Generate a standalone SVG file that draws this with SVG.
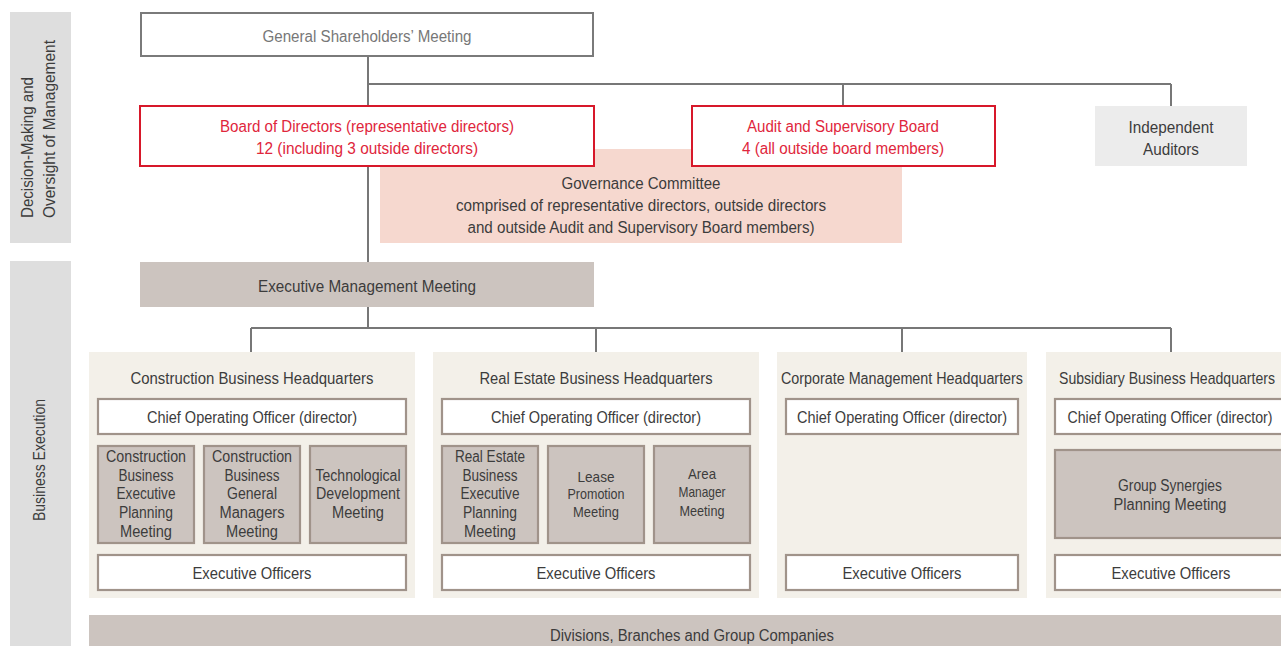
<svg xmlns="http://www.w3.org/2000/svg" width="1281" height="646" viewBox="0 0 1281 646">
  <style>
    text { font-family: "Liberation Sans", Arial, sans-serif; font-size: 16px; fill: #3c3c3c; text-anchor: middle; }
    .side { fill: #dedede; }
    .red { fill: #ffffff; stroke: #d7182a; stroke-width: 2; }
    text.redt { fill: #e0263c; }
    .hq { fill: #f3f0e9; }
    .wbox { fill: #ffffff; stroke: #a0938a; stroke-width: 2.2; }
    .mbox { fill: #ccc4bf; stroke: #a0938a; stroke-width: 2.2; }
    .gline { fill: none; stroke: #777777; stroke-width: 2; }
    .bline { fill: none; stroke: #a0938a; stroke-width: 2.2; }
    text.sm { font-size: 15px; }
    text.vl { text-anchor: start; }
  </style>

  <!-- side bands -->
  <g id="band-oversight">
    <rect class="side" x="10" y="12" width="61" height="231"/>
    <text class="vl" transform="translate(33,218) rotate(-90)" textLength="141" lengthAdjust="spacingAndGlyphs">Decision-Making and</text>
    <text class="vl" transform="translate(55,218) rotate(-90)" textLength="178" lengthAdjust="spacingAndGlyphs">Oversight of Management</text>
  </g>
  <g id="band-execution">
    <rect class="side" x="10" y="261" width="61" height="385"/>
    <text transform="translate(45,460) rotate(-90)" textLength="122" lengthAdjust="spacingAndGlyphs">Business Execution</text>
  </g>

  <!-- connectors -->
  <g id="connectors">
    <path class="gline" d="M368 56 V262 M368 84 H1171 M843 84 V106 M1171 84 V106"/>
    <path class="gline" d="M368 307 V328 M251 328 H1171 M251 328 V352 M596 328 V352 M902 328 V352 M1171 328 V352"/>
    <path class="bline" d="M146 434 V446 M252 434 V446 M358 434 V446 M146 543 V555 M252 543 V555 M358 543 V555"/>
    <path class="bline" d="M490 434 V446 M596 434 V446 M702 434 V446 M490 543 V555 M596 543 V555 M702 543 V555"/>
    <path class="bline" d="M902 434 V555"/>
    <path class="bline" d="M1171 434 V450 M1171 538 V555"/>
  </g>

  <g id="shareholders">
    <rect x="141" y="13" width="452" height="43" fill="#ffffff" stroke="#7a7a7a" stroke-width="2"/>
    <text x="367" y="42" style="fill:#777777" textLength="209" lengthAdjust="spacingAndGlyphs">General Shareholders’ Meeting</text>
  </g>

  <g id="governance">
    <rect x="380" y="149" width="522" height="94" fill="#f6d8cf"/>
    <text x="641" y="189" textLength="159" lengthAdjust="spacingAndGlyphs">Governance Committee</text>
    <text x="641" y="211" textLength="370" lengthAdjust="spacingAndGlyphs">comprised of representative directors, outside directors</text>
    <text x="641" y="233" textLength="347" lengthAdjust="spacingAndGlyphs">and outside Audit and Supervisory Board members)</text>
  </g>

  <g id="board">
    <rect class="red" x="140" y="106" width="454" height="60"/>
    <text class="redt" x="367" y="132" textLength="294" lengthAdjust="spacingAndGlyphs">Board of Directors (representative directors)</text>
    <text class="redt" x="367" y="154" textLength="222" lengthAdjust="spacingAndGlyphs">12 (including 3 outside directors)</text>
  </g>

  <g id="audit-board">
    <rect class="red" x="692" y="106" width="303" height="60"/>
    <text class="redt" x="843" y="132" textLength="192" lengthAdjust="spacingAndGlyphs">Audit and Supervisory Board</text>
    <text class="redt" x="843" y="154" textLength="202" lengthAdjust="spacingAndGlyphs">4 (all outside board members)</text>
  </g>

  <g id="auditors">
    <rect x="1095" y="106" width="152" height="60" fill="#ececec"/>
    <text x="1171" y="133" textLength="85" lengthAdjust="spacingAndGlyphs">Independent</text>
    <text x="1171" y="155" textLength="56" lengthAdjust="spacingAndGlyphs">Auditors</text>
  </g>

  <g id="exec-mgmt">
    <rect x="140" y="262" width="454" height="45" fill="#ccc4bf"/>
    <text x="367" y="292" textLength="218" lengthAdjust="spacingAndGlyphs">Executive Management Meeting</text>
  </g>

  <!-- Construction -->
  <g id="hq-construction">
    <rect class="hq" x="89" y="352" width="326" height="246"/>
    <text x="252" y="384" textLength="243" lengthAdjust="spacingAndGlyphs">Construction Business Headquarters</text>
    <rect class="wbox" x="98" y="399" width="308" height="35"/>
    <text x="252" y="423" textLength="210" lengthAdjust="spacingAndGlyphs">Chief Operating Officer (director)</text>
    <rect class="mbox" x="98" y="446" width="96" height="97"/>
    <text x="146" y="462" textLength="80" lengthAdjust="spacingAndGlyphs">Construction</text>
    <text x="146" y="481" textLength="55" lengthAdjust="spacingAndGlyphs">Business</text>
    <text x="146" y="499" textLength="59" lengthAdjust="spacingAndGlyphs">Executive</text>
    <text x="146" y="518" textLength="54" lengthAdjust="spacingAndGlyphs">Planning</text>
    <text x="146" y="537" textLength="52" lengthAdjust="spacingAndGlyphs">Meeting</text>
    <rect class="mbox" x="204" y="446" width="96" height="97"/>
    <text x="252" y="462" textLength="80" lengthAdjust="spacingAndGlyphs">Construction</text>
    <text x="252" y="481" textLength="55" lengthAdjust="spacingAndGlyphs">Business</text>
    <text x="252" y="499" textLength="50" lengthAdjust="spacingAndGlyphs">General</text>
    <text x="252" y="518" textLength="65" lengthAdjust="spacingAndGlyphs">Managers</text>
    <text x="252" y="537" textLength="52" lengthAdjust="spacingAndGlyphs">Meeting</text>
    <rect class="mbox" x="310" y="446" width="96" height="97"/>
    <text x="358" y="481" textLength="85" lengthAdjust="spacingAndGlyphs">Technological</text>
    <text x="358" y="499" textLength="84" lengthAdjust="spacingAndGlyphs">Development</text>
    <text x="358" y="518" textLength="52" lengthAdjust="spacingAndGlyphs">Meeting</text>
    <rect class="wbox" x="98" y="555" width="308" height="35"/>
    <text x="252" y="579" textLength="119" lengthAdjust="spacingAndGlyphs">Executive Officers</text>
  </g>

  <!-- Real Estate -->
  <g id="hq-realestate">
    <rect class="hq" x="433" y="352" width="326" height="246"/>
    <text x="596" y="384" textLength="233" lengthAdjust="spacingAndGlyphs">Real Estate Business Headquarters</text>
    <rect class="wbox" x="442" y="399" width="308" height="35"/>
    <text x="596" y="423" textLength="210" lengthAdjust="spacingAndGlyphs">Chief Operating Officer (director)</text>
    <rect class="mbox" x="442" y="446" width="96" height="97"/>
    <text x="490" y="462" textLength="70" lengthAdjust="spacingAndGlyphs">Real Estate</text>
    <text x="490" y="481" textLength="55" lengthAdjust="spacingAndGlyphs">Business</text>
    <text x="490" y="499" textLength="59" lengthAdjust="spacingAndGlyphs">Executive</text>
    <text x="490" y="518" textLength="54" lengthAdjust="spacingAndGlyphs">Planning</text>
    <text x="490" y="537" textLength="52" lengthAdjust="spacingAndGlyphs">Meeting</text>
    <rect class="mbox" x="548" y="446" width="96" height="97"/>
    <text class="sm" x="596" y="482" textLength="37" lengthAdjust="spacingAndGlyphs">Lease</text>
    <text class="sm" x="596" y="499" textLength="57" lengthAdjust="spacingAndGlyphs">Promotion</text>
    <text class="sm" x="596" y="517" textLength="46" lengthAdjust="spacingAndGlyphs">Meeting</text>
    <rect class="mbox" x="654" y="446" width="96" height="97"/>
    <text class="sm" x="702" y="479" textLength="28" lengthAdjust="spacingAndGlyphs">Area</text>
    <text class="sm" x="702" y="497" textLength="47" lengthAdjust="spacingAndGlyphs">Manager</text>
    <text class="sm" x="702" y="516" textLength="45" lengthAdjust="spacingAndGlyphs">Meeting</text>
    <rect class="wbox" x="442" y="555" width="308" height="35"/>
    <text x="596" y="579" textLength="119" lengthAdjust="spacingAndGlyphs">Executive Officers</text>
  </g>

  <!-- Corporate -->
  <g id="hq-corporate">
    <rect class="hq" x="777" y="352" width="250" height="246"/>
    <text x="902" y="384" textLength="242" lengthAdjust="spacingAndGlyphs">Corporate Management Headquarters</text>
    <rect class="wbox" x="786" y="399" width="232" height="35"/>
    <text x="902" y="423" textLength="210" lengthAdjust="spacingAndGlyphs">Chief Operating Officer (director)</text>
    <rect class="wbox" x="786" y="555" width="232" height="35"/>
    <text x="902" y="579" textLength="119" lengthAdjust="spacingAndGlyphs">Executive Officers</text>
  </g>

  <!-- Subsidiary (panel runs off the right edge) -->
  <g id="hq-subsidiary">
    <rect class="hq" x="1046" y="352" width="250" height="246"/>
    <text transform="translate(1167,384) scale(0.88,1)">Subsidiary Business Headquarters</text>
    <rect class="wbox" x="1055" y="399" width="232" height="35"/>
    <text transform="translate(1170,423) scale(0.885,1)">Chief Operating Officer (director)</text>
    <rect class="mbox" x="1055" y="450" width="232" height="88"/>
    <text x="1170" y="491" textLength="104" lengthAdjust="spacingAndGlyphs">Group Synergies</text>
    <text x="1170" y="510" textLength="113" lengthAdjust="spacingAndGlyphs">Planning Meeting</text>
    <rect class="wbox" x="1055" y="555" width="232" height="35"/>
    <text x="1171" y="579" textLength="119" lengthAdjust="spacingAndGlyphs">Executive Officers</text>
  </g>

  <g id="divisions">
    <rect x="89" y="615" width="1200" height="31" fill="#ccc4bf"/>
    <text x="692" y="641" textLength="284" lengthAdjust="spacingAndGlyphs">Divisions, Branches and Group Companies</text>
  </g>
</svg>
